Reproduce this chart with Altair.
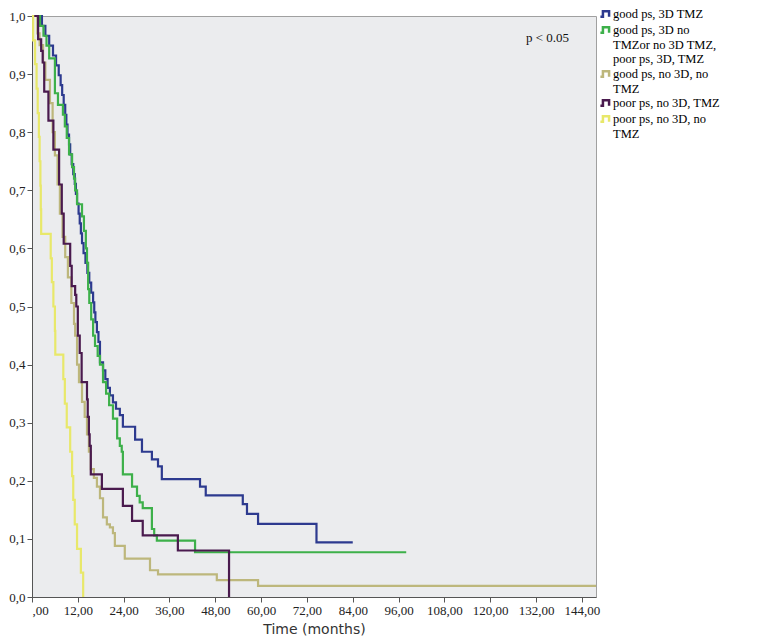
import altair as alt
import pandas as pd

# Series names (legend text, "\n" marks the line breaks seen in the legend)
GROUPS = [
    "good ps, 3D TMZ",
    "good ps, 3D no\nTMZor no 3D TMZ,\npoor ps, 3D, TMZ",
    "good ps, no 3D, no\nTMZ",
    "poor ps, no 3D, TMZ",
    "poor ps, no 3D, no\nTMZ",
]
COLORS = ["#2d3a8f", "#3db04a", "#bdb77c", "#4a1a4e", "#e8e86a"]

# Kaplan-Meier steps: time (months) where survival drops to the paired value
blue_t = [0, 2.6, 3.5, 4.5, 5.5, 6.3, 7.0, 7.5, 7.9, 8.3, 8.7, 9.0, 9.3, 9.7, 10.0, 10.4,
          10.8, 11.2, 11.5, 11.8, 12.2, 12.5, 12.8, 13.1, 13.5, 14.0, 14.5, 15.0, 15.5,
          16.0, 16.3, 16.6, 17.0, 17.4, 17.8, 18.6, 19.2, 19.8, 20.4, 21.2, 22.0, 23.0,
          23.8, 27.0, 28.8, 31.4, 33.0, 34.0, 44.0, 45.5, 55.2, 56.3, 59.2, 74.5, 84.0]
blue_s = [1.0, 0.983, 0.966, 0.949, 0.932, 0.915, 0.898, 0.881, 0.864, 0.847, 0.83, 0.813,
          0.796, 0.779, 0.762, 0.745, 0.728, 0.711, 0.694, 0.677, 0.66, 0.643, 0.626, 0.609,
          0.592, 0.575, 0.558, 0.541, 0.524, 0.507, 0.49, 0.473, 0.456, 0.439, 0.404, 0.39,
          0.375, 0.36, 0.347, 0.335, 0.324, 0.313, 0.293, 0.271, 0.25, 0.237, 0.225, 0.203,
          0.19, 0.175, 0.16, 0.143, 0.126, 0.094, 0.094]

green_t = [0, 2.1, 3.0, 3.8, 4.5, 6.0, 6.8, 8.1, 8.6, 9.1, 9.7, 10.5, 11.0, 11.3, 11.8, 13.1,
           13.6, 14.1, 14.4, 14.7, 15.0, 15.5, 16.0, 16.5, 17.2, 17.8, 18.6, 19.4, 20.2,
           21.2, 22.3, 23.0, 23.5, 23.8, 26.2, 27.5, 28.2, 29.0, 31.4, 32.0, 32.7, 42.7, 98.0]
green_s = [1.0, 0.983, 0.966, 0.949, 0.927, 0.867, 0.847, 0.83, 0.81, 0.79, 0.762, 0.74,
           0.72, 0.70, 0.676, 0.655, 0.63, 0.60, 0.575, 0.53, 0.506, 0.478, 0.45, 0.432,
           0.415, 0.40, 0.37, 0.35, 0.33, 0.307, 0.273, 0.26, 0.25, 0.211, 0.19, 0.174,
           0.163, 0.153, 0.117, 0.106, 0.097, 0.077, 0.077]

tan_t = [0, 1.4, 2.0, 2.9, 3.5, 4.7, 5.4, 6.0, 6.7, 7.3, 8.0, 8.7, 9.4, 10.3, 11.0, 11.3,
         11.8, 12.3, 13.1, 13.8, 14.4, 14.9, 15.4, 16.2, 17.0, 17.8, 18.6, 19.6, 20.4, 21.2,
         21.7, 24.3, 30.9, 33.0, 48.4, 59.2, 147.7]
tan_s = [1.0, 0.97, 0.95, 0.92, 0.89, 0.85, 0.80, 0.76, 0.71, 0.66, 0.62, 0.585, 0.55,
         0.506, 0.47, 0.45, 0.40, 0.37, 0.336, 0.31, 0.28, 0.25, 0.22, 0.205, 0.19, 0.17,
         0.137, 0.125, 0.12, 0.11, 0.088, 0.066, 0.046, 0.039, 0.029, 0.019, 0.019]

purple_t = [0, 1.6, 2.4, 2.8, 3.2, 4.3, 5.6, 7.1, 7.8, 8.3, 10.0, 10.4, 11.3, 11.6, 12.0,
            12.5, 13.0, 14.4, 14.6, 14.9, 15.1, 15.4, 18.3, 23.8, 26.2, 29.0, 38.2, 51.6]
purple_s = [1.0, 0.96, 0.94, 0.92, 0.87, 0.82, 0.77, 0.71, 0.66, 0.608, 0.57, 0.535, 0.52,
            0.50, 0.45, 0.42, 0.37, 0.34, 0.31, 0.28, 0.26, 0.211, 0.186, 0.157, 0.131,
            0.106, 0.08, 0.0]

yellow_t = [0, 0.3, 0.8, 1.2, 1.5, 1.8, 2.0, 2.2, 2.3, 2.4, 4.9, 5.2, 5.6, 6.0, 6.1, 8.2,
            8.6, 9.1, 10.0, 10.5, 10.8, 11.2, 11.8, 12.8, 13.4]
yellow_s = [1.0, 0.958, 0.917, 0.875, 0.833, 0.792, 0.75, 0.708, 0.667, 0.625, 0.583, 0.542,
            0.5, 0.458, 0.417, 0.375, 0.333, 0.292, 0.25, 0.208, 0.167, 0.125, 0.083, 0.042,
            0.0]

X_TICKS = [0, 12, 24, 36, 48, 60, 72, 84, 96, 108, 120, 132, 144]
Y_TICKS = [0.0, 0.1, 0.2, 0.3, 0.4, 0.5, 0.6, 0.7, 0.8, 0.9, 1.0]
P_LABEL = ["p < 0.05"]
P_T = [135.0]
P_S = [0.962]

series = [(blue_t, blue_s), (green_t, green_s), (tan_t, tan_s),
          (purple_t, purple_s), (yellow_t, yellow_s)]
rows = []
for g, (ts, ss) in zip(GROUPS, series):
    for t, s in zip(ts, ss):
        rows.append({"t": t, "s": s, "g": g})
df = pd.DataFrame(rows)

step_path = "M-1,0.5L-0.55,0.5L-0.55,-0.5L0.55,-0.5L0.55,0.5"

lines = alt.Chart(df).mark_line(interpolate="step-after", strokeWidth=2.2).encode(
    x=alt.X("t:Q",
            scale=alt.Scale(domain=[0, 147.7], nice=False),
            axis=alt.Axis(values=X_TICKS, title="Time (months)",
                          labelExpr="datum.value == 0 ? ',00' : replace(format(datum.value, '.2f'), '.', ',')")),
    y=alt.Y("s:Q",
            scale=alt.Scale(domain=[0, 1], nice=False),
            axis=alt.Axis(values=Y_TICKS, title=None,
                          labelExpr="replace(format(datum.value, '.1f'), '.', ',')")),
    color=alt.Color("g:N",
                    scale=alt.Scale(domain=GROUPS, range=COLORS),
                    legend=alt.Legend(
                        title=None, orient="none", legendX=567, legendY=-9,
                        symbolType=step_path, symbolSize=125, symbolStrokeWidth=2.5,
                        labelExpr="split(datum.label, '\\n')",
                        labelFont="Liberation Serif", labelFontSize=12.5,
                        labelColor="#000000", labelLimit=300, labelOffset=0,
                        rowPadding=0, padding=0,
                    )),
)

ptext = alt.Chart(pd.DataFrame({"t": P_T, "s": P_S, "label": P_LABEL})).mark_text(
    font="Liberation Serif", fontSize=13, color="#111"
).encode(x="t:Q", y="s:Q", text="label:N")

chart = alt.layer(lines, ptext).properties(
    width=564, height=581,
    padding={"left": 24, "top": 8, "right": 170, "bottom": 45},
    autosize=alt.AutoSizeParams(type="none"),
).configure_view(
    fill="#ebecee", stroke="#a0a0a0", strokeWidth=1
).configure_axis(
    grid=False, domainColor="#555555", tickColor="#555555", tickSize=5,
    labelFont="Liberation Serif", labelFontSize=13, labelColor="#222222",
    titleFont="DejaVu Sans", titleFontSize=14, titleFontWeight="normal",
    titleColor="#333333", labelPadding=2, titlePadding=5,
)

chart.save("out.html", embed_options={"renderer": "svg", "actions": False})
